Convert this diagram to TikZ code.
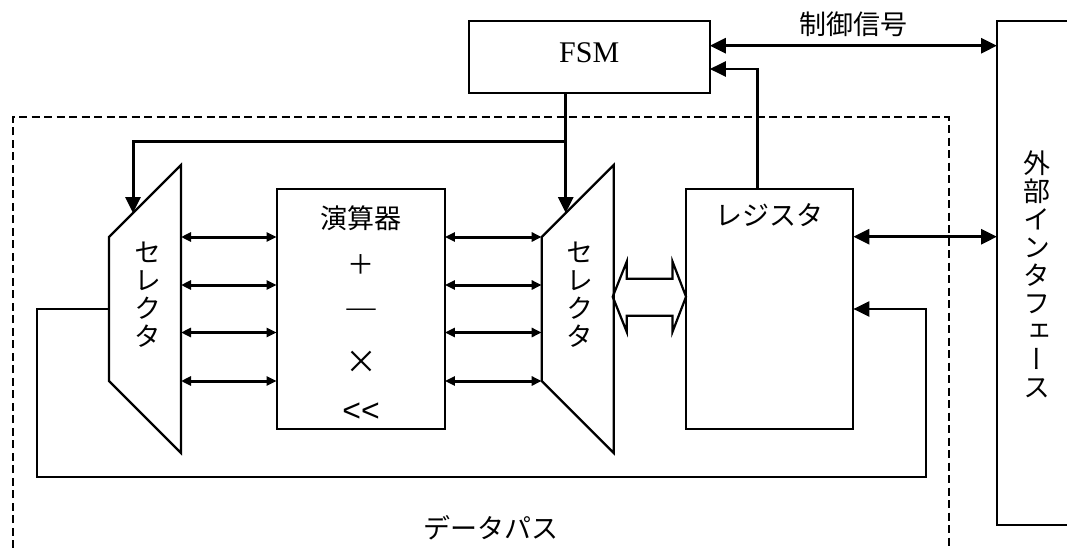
\documentclass[tikz,border=0pt]{standalone}
\usepackage{fontspec}
\setmainfont{Liberation Serif}
\setsansfont{Liberation Sans}
\newfontfamily\jpfont{Noto Sans CJK JP}
\newfontfamily\jpvfont[RawFeature=+vert]{Noto Sans CJK JP}
\usetikzlibrary{arrows.meta,positioning,calc}

\begin{document}
\begin{tikzpicture}[x=1pt, y=-1pt,
    box/.style={draw, line width=2.2pt, inner sep=0pt, outer sep=0pt},
    jp/.style={font=\jpfont\fontsize{27}{28}\selectfont, inner sep=0pt},
    jpv/.style={font=\jpvfont\fontsize{27}{28}\selectfont, align=center, inner sep=0pt},
    bus/.style={{Triangle[length=10pt,width=9pt]}-{Triangle[length=10pt,width=9pt]}, line width=3pt},
    sig/.style={-{Triangle[length=16pt,width=15pt]}, line width=3pt},
    dsig/.style={{Triangle[length=16pt,width=15pt]}-{Triangle[length=16pt,width=15pt]}, line width=3pt},
    fb/.style={-{Triangle[length=16pt,width=15pt]}, line width=2.2pt},
    dashbox/.style={line width=2pt, dash pattern=on 8pt off 4.5pt}]

    \useasboundingbox (0,0) rectangle (1067,548);
    \clip (0,0) rectangle (1067,548);

    % data path frame
    \draw[dashbox] (12.7,548) -- (12.7,117) -- (948.5,117) -- (948.5,548);
    \node[jp] (dplbl) at (491,528) {データパス};

    % FSM and external interface
    \node[box, minimum width=241.2pt, minimum height=72.3pt, text depth=10pt,
          font=\fontsize{30}{32}\selectfont] (fsm) at (589.2,57.2) {FSM};
    \node[box, anchor=north west, minimum width=120pt, minimum height=504pt] (ext) at (997,21) {};
    \node[jpv] (extlbl) at (1037,274) {外\\部\\イ\\ン\\タ\\フ\\ェ\\ー\\ス};

    % ALU
    \node[box, minimum width=168.3pt, minimum height=239.5pt] (alu) at (360.8,309) {};
    \node[jp] (alutitle) at (361,218) {演算器};
    \node[jp] (opadd) at (361,265) {＋};
    \node[font=\rmfamily\fontsize{29}{29}\selectfont, inner sep=0pt] (opsub) at (361,313) {—};
    \node[jp, font=\jpfont\fontsize{32}{32}\selectfont] (opmul) at (361,362) {×};
    \node[font=\sffamily\fontsize{32}{32}\selectfont] (opshl) at (361,412) {<{}<};

    % register
    \node[box, minimum width=167.3pt, minimum height=239.5pt] (reg) at (769.7,309) {};
    \node[jp] (reglbl) at (769.5,215) {レジスタ};

    % selectors
    \foreach \n/\xl in {selL/109, selR/541.7} {
        \draw[box] (\xl,237) -- ++(72,-72) -- ++(0,288) -- ++(-72,-72) -- cycle;
        \coordinate (\n-in) at (\xl+24,213);
        \node[jpv] (\n-lbl) at (\xl+38.5,295) {セ\\レ\\ク\\タ};
    }

    % buses to and from the ALU
    \foreach \i/\y in {1/237,2/285,3/332.5,4/381} {
        \coordinate (bl\i) at (181,\y);
        \coordinate (br\i) at (541.7,\y);
        \draw[bus] (bl\i) -- (alu.west |- bl\i);
        \draw[bus] (alu.east |- br\i) -- (br\i);
    }

    % selector to register
    \coordinate (hL) at (612.7,296.7);
    \coordinate (hR) at (reg.west |- hL);
    \draw[box] (hL) -- ($(hL)+(14,-35)$) -- ($(hL)+(14,-18)$) -- ($(hR)+(-13.5,-18)$)
        -- ($(hR)+(-13.5,-35)$) -- (hR) -- ($(hR)+(-13.5,35)$) -- ($(hR)+(-13.5,19)$)
        -- ($(hL)+(14,19)$) -- ($(hL)+(14,35)$) -- cycle;

    % control
    \draw[sig] (fsm.south -| selR-in) -- (selR-in);
    \path (selR-in) ++(0,-71.7) coordinate (split);
    \draw[sig] (split) -| (selL-in);
    \coordinate (ctl) at (853,45.7);
    \draw[dsig] (fsm.east |- ctl) -- (ext.west |- ctl)
        node[jp, midway, yshift=21pt] (ctllbl) {制御信号};
    \coordinate (stat) at (757.5,69);
    \draw[fb] (reg.north -| stat) |- (fsm.east |- stat);
    \coordinate (io) at (900,236.7);
    \draw[dsig] (reg.east |- io) -- (ext.west |- io);

    % feedback
    \coordinate (selL-w) at (109,309);
    \coordinate (loopBL) at (36.7,476.7);
    \coordinate (loopBR) at (925.7,476.7);
    \draw[fb] (selL-w) -| (loopBL) -- (loopBR) |- (reg.east |- selL-w);
\end{tikzpicture}
\end{document}
